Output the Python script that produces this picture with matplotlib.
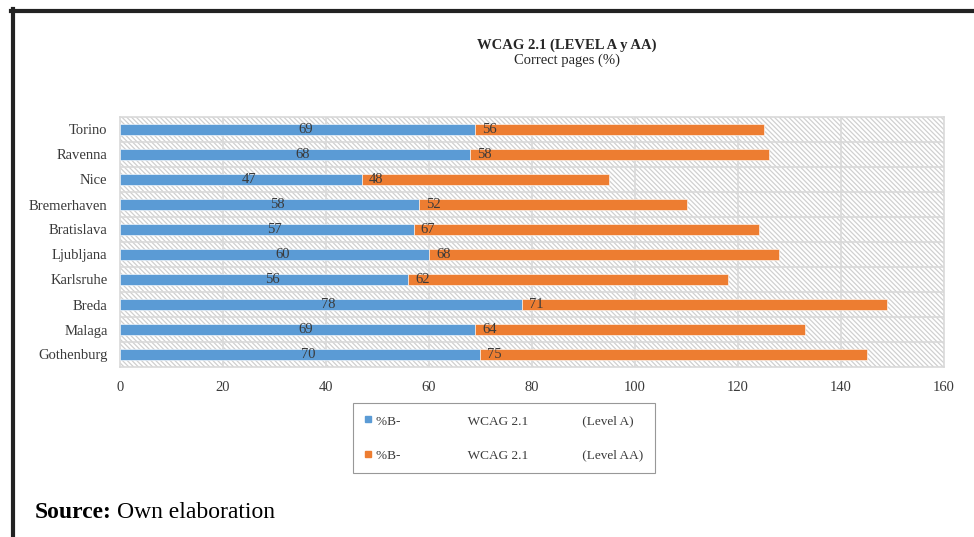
import matplotlib.pyplot as plt
from matplotlib.lines import Line2D
from matplotlib.patches import Rectangle

# --- data ---
cities = ["Torino", "Ravenna", "Nice", "Bremerhaven", "Bratislava",
          "Ljubljana", "Karlsruhe", "Breda", "Malaga", "Gothenburg"]
level_a = [69, 68, 47, 58, 57, 60, 56, 78, 69, 70]
level_aa = [56, 58, 48, 52, 67, 68, 62, 71, 64, 75]
x_ticks = [0, 20, 40, 60, 80, 100, 120, 140, 160]

BLUE = "#5B9BD5"
ORANGE = "#ED7D31"
GRID = "#d9d9d9"
TEXT = "#3a3a3a"

plt.rcParams['font.family'] = ['Liberation Serif', 'DejaVu Serif']
plt.rcParams['hatch.linewidth'] = 0.9

fig = plt.figure(figsize=(9.74, 5.37), dpi=100)
ax = fig.add_axes([120 / 974, 1 - 367 / 537, (944 - 120) / 974, (367 - 117) / 537])

# hatched plot area
ax.add_patch(Rectangle((0, 0), 1, 1, transform=ax.transAxes, facecolor="white",
                       edgecolor="#d0d0d0", hatch="\\" * 7, linewidth=0, zorder=0))

ypos = list(range(len(cities)))
ax.barh(ypos, level_a, height=0.44, color=BLUE, edgecolor="white", linewidth=0.4, zorder=3)
ax.barh(ypos, level_aa, left=level_a, height=0.44, color=ORANGE, edgecolor="white",
        linewidth=0.4, zorder=3)

for y, a, aa in zip(ypos, level_a, level_aa):
    ax.text(a / 2 + 1.5, y, str(a), ha="center", va="center", fontsize=10.5, color=TEXT, zorder=4)
    ax.annotate(str(aa), (a, y), xytext=(5, 0), textcoords="offset points",
                ha="left", va="center", fontsize=10.5, color=TEXT, zorder=4)

ax.set_xlim(0, 160)
ax.set_ylim(len(cities) - 0.5, -0.5)
ax.set_xticks(x_ticks)
ax.set_yticks(ypos)
ax.set_yticklabels(cities)
ax.tick_params(length=0, labelsize=10.5, labelcolor=TEXT)
ax.tick_params(axis="y", pad=9)
ax.tick_params(axis="x", pad=10)

# grid: vertical at ticks, horizontal between categories
for xv in x_ticks[1:-1]:
    ax.axvline(xv, color=GRID, linewidth=1.2, zorder=1)
for k in range(len(cities) - 1):
    ax.axhline(k + 0.5, color=GRID, linewidth=1.2, zorder=1)
for s in ax.spines.values():
    s.set_color(GRID)
    s.set_linewidth(1.2)

fig.text(567 / 974, 1 - 45 / 537, "WCAG 2.1 (LEVEL A y AA)", ha="center", va="center",
         fontsize=10.5, fontweight="bold", color="#262626")
fig.text(567 / 974, 1 - 60 / 537, "Correct pages (%)", ha="center", va="center",
         fontsize=10.5, color="#262626")

handles = [Line2D([], [], marker="s", linestyle="none", markersize=5, color=c) for c in (BLUE, ORANGE)]
labels = ["%B-" + " " * 20 + "WCAG 2.1" + " " * 16 + "(Level A)",
          "%B-" + " " * 20 + "WCAG 2.1" + " " * 16 + "(Level AA)"]
leg = fig.legend(handles, labels, loc="center", bbox_to_anchor=(504 / 974, 1 - 438 / 537),
                 fontsize=9.5, frameon=True, fancybox=False, handlelength=0.6,
                 handletextpad=0.3, labelspacing=1.7, borderpad=0.9, borderaxespad=0)
leg.get_frame().set_edgecolor("#7f7f7f")
leg.get_frame().set_linewidth(0.8)
for t in leg.get_texts():
    t.set_color(TEXT)

# source note: bold lead-in followed by regular text
src = fig.text(35 / 974, 1 - 518 / 537, "Source:", fontsize=17, fontweight="bold",
               va="baseline", color="black")
fig.canvas.draw()
w = src.get_window_extent().width
fig.text(35 / 974 + (w + 5) / 974, 1 - 518 / 537, "Own elaboration", fontsize=17,
         va="baseline", color="black")

# page frame
fig.add_artist(Line2D([11 / 974, 1], [1 - 11 / 537] * 2, color="#222222", linewidth=3,
                      transform=fig.transFigure))
fig.add_artist(Line2D([13 / 974] * 2, [1 - 9 / 537, 0], color="#222222", linewidth=3,
                      transform=fig.transFigure))

fig.savefig("out.png", dpi=100)
